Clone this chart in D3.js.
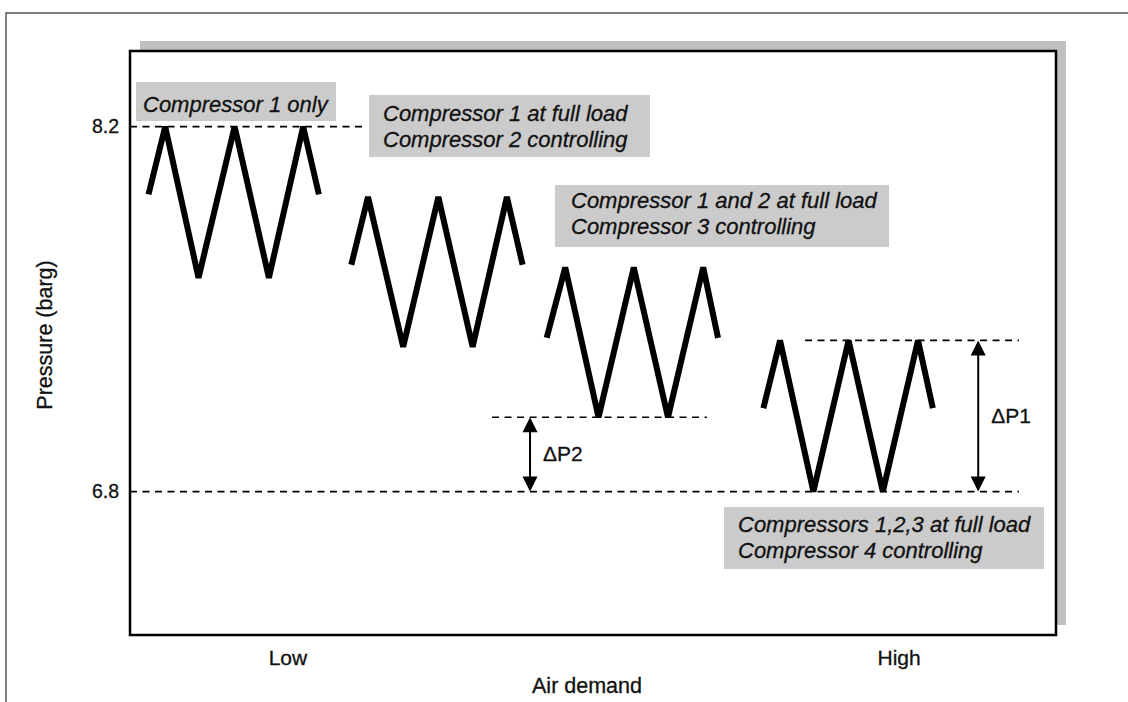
<!DOCTYPE html>
<html>
<head>
<meta charset="utf-8">
<script src="https://cdn.jsdelivr.net/npm/d3@7"></script>
<style>
	body { margin: 0; background: #fff; }
	svg text { font-family: "Liberation Sans", Arial, Helvetica, sans-serif; fill: #111; stroke: #111; stroke-width: 0.3; }
</style>
</head>
<body>
<svg id="chart" width="1128" height="702"></svg>
<script>
// ---- data -----------------------------------------------------------
// x = air demand (0..100, arbitrary), y = pressure in barg
const demandTicks = [17, 83];
const demandTickLabels = ["Low", "High"];
const pressureTicks = [6.8, 8.2];

const wave1Demand   = [2.0, 3.8, 7.4, 11.3, 15.0, 18.7, 20.4];
const wave1Pressure = [7.94, 8.2, 7.62, 8.2, 7.62, 8.2, 7.94];

const wave2Demand   = [23.9, 25.7, 29.5, 33.3, 37.0, 40.7, 42.4];
const wave2Pressure = [7.67, 7.93, 7.355, 7.93, 7.355, 7.93, 7.67];

const wave3Demand   = [45.0, 47.0, 50.6, 54.4, 58.1, 61.9, 63.5];
const wave3Pressure = [7.39, 7.66, 7.085, 7.66, 7.085, 7.66, 7.39];

const wave4Demand   = [68.4, 70.2, 73.8, 77.6, 81.3, 85.1, 86.7];
const wave4Pressure = [7.12, 7.38, 6.80, 7.38, 6.80, 7.38, 7.12];

// dashed reference levels: pressure, from demand, to demand
const refPressure = [8.2, 6.8, 7.085, 7.38];
const refFrom     = [0, 0, 39.1, 72.9];
const refTo       = [25.2, 96.0, 62.3, 96.0];

// pressure band arrows
const bandLabels   = ["\u0394P2", "\u0394P1"];
const bandDemand   = [43.2, 91.6];
const bandLow      = [6.8, 6.8];
const bandHigh     = [7.085, 7.38];

const noteLines = [
	["Compressor 1 only"],
	["Compressor 1 at full load", "Compressor 2 controlling"],
	["Compressor 1 and 2 at full load", "Compressor 3 controlling"],
	["Compressors 1,2,3 at full load", "Compressor 4 controlling"]
];

// ---- layout ---------------------------------------------------------
const svg = d3.select("#chart");
const box = { left: 130, top: 51, right: 1056, bottom: 635 };

// box placement of the grey notes (pixels)
const noteBoxes = [
	{ x0: 136, y0: 82, x1: 336, y1: 121, tx: 143, ty: 112 },
	{ x0: 369, y0: 95, x1: 650, y1: 157, tx: 383, ty: 121 },
	{ x0: 555, y0: 185, x1: 889, y1: 247, tx: 571, ty: 208 },
	{ x0: 724, y0: 507, x1: 1044, y1: 569, tx: 738, ty: 532 }
];

const x = d3.scaleLinear().domain([0, 100]).range([box.left, box.right]);
const y = d3.scaleLinear().domain([6.25, 8.49]).range([box.bottom, box.top]);

// outer frame (top + left only)
svg.append("path")
	.attr("d", "M6,702 V13 H1128")
	.attr("fill", "none")
	.attr("stroke", "#555")
	.attr("stroke-width", 1.5);

// drop shadow and plot frame
svg.append("rect")
	.attr("x", box.left + 10).attr("y", box.top - 10)
	.attr("width", box.right - box.left).attr("height", box.bottom - box.top)
	.attr("fill", "#c0c0c0");
svg.append("rect")
	.attr("x", box.left).attr("y", box.top)
	.attr("width", box.right - box.left).attr("height", box.bottom - box.top)
	.attr("fill", "#fff")
	.attr("stroke", "#000")
	.attr("stroke-width", 2.5);

// axes
const yAxis = svg.append("g")
	.attr("transform", `translate(${box.left},0)`)
	.call(d3.axisLeft(y).tickValues(pressureTicks).tickSize(0).tickPadding(11).tickFormat(d3.format(".1f")));
yAxis.select(".domain").remove();
yAxis.selectAll("text")
	.attr("font-size", 19.5)
	.attr("fill", "#111");

const xAxis = svg.append("g")
	.attr("transform", `translate(0,${box.bottom})`)
	.call(d3.axisBottom(x).tickValues(demandTicks).tickSize(0).tickPadding(15)
		.tickFormat((d, i) => demandTickLabels[i]));
xAxis.select(".domain").remove();
xAxis.selectAll("text")
	.attr("font-size", 21)
	.attr("fill", "#111");

svg.append("text")
	.attr("x", 587).attr("y", 693)
	.attr("text-anchor", "middle")
	.attr("font-size", 21.5)
	.text("Air demand");

svg.append("text")
	.attr("transform", "translate(52,335) rotate(-90)")
	.attr("text-anchor", "middle")
	.attr("font-size", 21.5)
	.text("Pressure (barg)");

// grey notes
noteLines.forEach((lines, i) => {
	const b = noteBoxes[i];
	svg.append("rect")
		.attr("x", b.x0).attr("y", b.y0)
		.attr("width", b.x1 - b.x0).attr("height", b.y1 - b.y0)
		.attr("fill", "#cbcbcb");
	const t = svg.append("text")
		.attr("x", b.tx).attr("y", b.ty)
		.attr("font-size", 22)
		.attr("font-style", "italic");
	lines.forEach((line, j) => {
		t.append("tspan").attr("x", b.tx).attr("dy", j === 0 ? 0 : 26).text(line);
	});
});

// dashed levels
svg.append("g").selectAll("line")
	.data(refPressure)
	.join("line")
	.attr("x1", (d, i) => x(refFrom[i]))
	.attr("x2", (d, i) => x(refTo[i]))
	.attr("y1", d => y(d))
	.attr("y2", d => y(d))
	.attr("stroke", "#000")
	.attr("stroke-width", 1.6)
	.attr("stroke-dasharray", "7,5.5");

// pressure waves
const waves = [
	d3.zip(wave1Demand, wave1Pressure),
	d3.zip(wave2Demand, wave2Pressure),
	d3.zip(wave3Demand, wave3Pressure),
	d3.zip(wave4Demand, wave4Pressure)
];
const line = d3.line().x(d => x(d[0])).y(d => y(d[1]));
svg.append("g").selectAll("path")
	.data(waves)
	.join("path")
	.attr("d", line)
	.attr("fill", "none")
	.attr("stroke", "#000")
	.attr("stroke-width", 6)
	.attr("stroke-linejoin", "miter");

// band arrows
const head = 15, half = 7.5;
bandDemand.forEach((dm, i) => {
	const cx = x(dm), yTop = y(bandHigh[i]), yBot = y(bandLow[i]);
	const g = svg.append("g");
	g.append("line")
		.attr("x1", cx).attr("x2", cx)
		.attr("y1", yTop + head - 1).attr("y2", yBot - head + 1)
		.attr("stroke", "#000").attr("stroke-width", 2);
	g.append("path")
		.attr("d", `M${cx},${yTop} L${cx - half},${yTop + head} L${cx + half},${yTop + head} Z`
			+ `M${cx},${yBot} L${cx - half},${yBot - head} L${cx + half},${yBot - head} Z`)
		.attr("fill", "#000");
	g.append("text")
		.attr("x", cx + 13)
		.attr("y", (yTop + yBot) / 2 + 7)
		.attr("font-size", 21)
		.text(bandLabels[i]);
});
</script>
</body>
</html>
